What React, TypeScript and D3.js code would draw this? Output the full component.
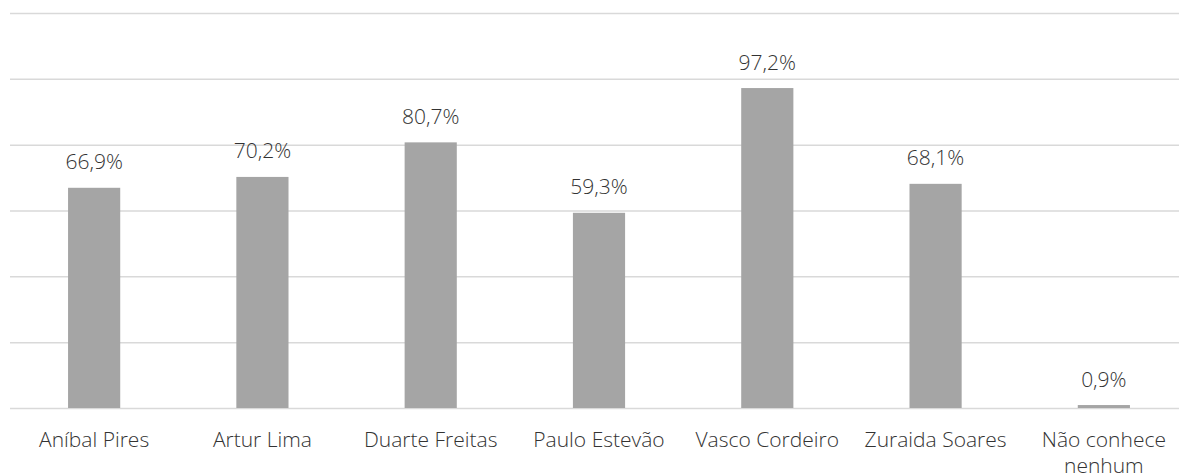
import React, { useEffect, useRef } from "react";
import * as d3 from "d3";

const categories = ["Aníbal Pires", "Artur Lima", "Duarte Freitas", "Paulo Estevão", "Vasco Cordeiro", "Zuraida Soares", "Não conhece nenhum"];
const values = [66.9, 70.2, 80.7, 59.3, 97.2, 68.1, 0.9];
const gridTicks = [0, 20, 40, 60, 80, 100, 120];

const W = 1179;
const H = 476;
const FONT = "'Open Sans', sans-serif";

export default function App() {
  const ref = useRef<SVGSVGElement>(null);
  useEffect(() => {
    const svg = d3.select(ref.current);
    svg.selectAll("*").remove();
    const x = d3.scaleBand<string>().domain(categories).range([10, 1188]).paddingInner(0.69).paddingOuter(0.345);
    const y = d3.scaleLinear().domain([0, 120]).range([408, 13]);

    svg.append("g").selectAll("line").data(gridTicks).join("line")
      .attr("x1", 10).attr("x2", 1188)
      .attr("y1", (d) => y(d) + 0.5).attr("y2", (d) => y(d) + 0.5)
      .attr("stroke", "#d9d9d9").attr("stroke-width", 1.5);

    svg.append("g").selectAll("rect").data(values).join("rect")
      .attr("x", (_, i) => x(categories[i])!)
      .attr("width", x.bandwidth())
      .attr("y", (d) => y(d))
      .attr("height", (d) => y(0) - y(d))
      .attr("fill", "#a5a5a5");

    svg.append("g").selectAll("text").data(values).join("text")
      .attr("x", (_, i) => x(categories[i])! + x.bandwidth() / 2)
      .attr("y", (d) => y(d) - 18.5)
      .attr("text-anchor", "middle")
      .attr("font-family", FONT).attr("font-size", 21).attr("font-weight", 300).attr("fill", "#333333")
      .text((d) => d.toFixed(1).replace(".", ",") + "%");

    const lbl = svg.append("g").selectAll("text").data(categories).join("text")
      .attr("x", (d) => x(d)! + x.bandwidth() / 2)
      .attr("y", 447)
      .attr("text-anchor", "middle")
      .attr("font-family", FONT).attr("font-size", 21).attr("font-weight", 300).attr("fill", "#333333");
    lbl.each(function (d) {
      const t = d3.select(this);
      const words = d.split(" ");
      const cx = t.attr("x");
      let line: string[] = [];
      let ts = t.append("tspan").attr("x", cx).attr("dy", 0);
      for (const w of words) {
        line.push(w);
        ts.text(line.join(" "));
        if ((ts.node() as SVGTSpanElement).getComputedTextLength() > 168 && line.length > 1) {
          line.pop();
          ts.text(line.join(" "));
          line = [w];
          ts = t.append("tspan").attr("x", cx).attr("dy", 26).text(w);
        }
      }
    });
  }, []);
  return (
    <svg ref={ref} width={W} height={H} style={{ position: "absolute", left: 0, top: 0, background: "#fff" }} />
  );
}
